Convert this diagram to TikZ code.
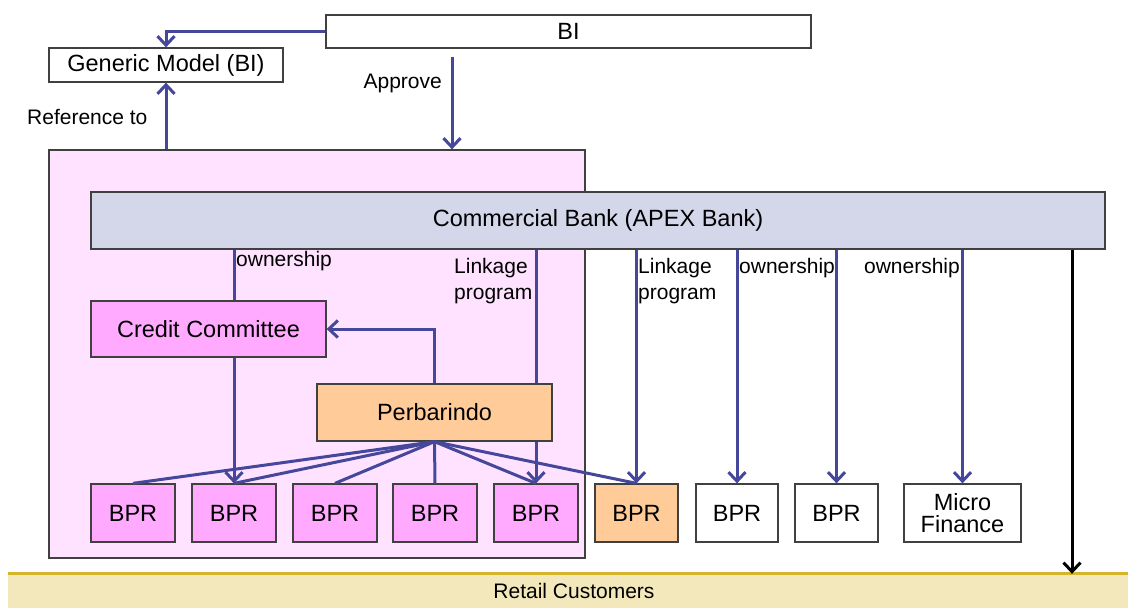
\documentclass[tikz,border=0pt]{standalone}
\usepackage{fontspec}
\setmainfont{Liberation Sans}
\usetikzlibrary{arrows.meta}
\definecolor{linkblue}{RGB}{68,71,154}
\definecolor{regionpink}{RGB}{255,226,255}
\definecolor{ccpink}{RGB}{255,170,255}
\definecolor{orangefill}{RGB}{255,204,153}
\definecolor{lavender}{RGB}{212,214,234}
\definecolor{retailfill}{RGB}{243,232,188}
\definecolor{goldline}{RGB}{213,181,44}
\begin{document}
\begin{tikzpicture}[x=1pt,y=-1pt,
  box/.style={draw=black!75,line width=1.3pt,rectangle,inner sep=0pt,
    font=\fontsize{23.5}{22.5}\selectfont,align=center},
  flow/.style={draw=linkblue,line width=3pt},
  arr/.style={flow,-{Straight Barb[length=9pt,width=17pt]}},
  lbl/.style={font=\fontsize{21}{26}\selectfont,inner sep=0pt,align=left}]
\useasboundingbox (0,0) rectangle (1128,608);

% region and bands
\node[box,fill=regionpink,minimum width=536pt,minimum height=408pt] (pink) at (317,354) {};
\node[fill=retailfill,inner sep=0pt,minimum width=1122pt,minimum height=34pt,
  font=\fontsize{21}{26}\selectfont] (retail) at (569,591) {\hspace*{10pt}Retail Customers};
\draw[goldline,line width=3pt] (retail.north west) -- (retail.north east);

% boxes
\node[box,fill=white,minimum width=485pt,minimum height=33pt] (bi) at (568.5,31.5) {BI};
\node[box,fill=white,minimum width=234pt,minimum height=34pt] (gm) at (166,65) {Generic Model (BI)};
\node[box,fill=lavender,minimum width=1014pt,minimum height=57pt] (cb) at (598,220.5) {Commercial Bank (APEX Bank)};
\node[box,fill=ccpink,minimum width=235pt,minimum height=56pt] (cc) at (208.5,329) {Credit Committee};
\node[box,fill=orangefill,minimum width=235pt,minimum height=57pt] (pb) at (434.5,412.5) {Perbarindo};

\node[box,fill=ccpink,minimum width=84pt,minimum height=58pt] (b1) at (133,513) {BPR};
\node[box,fill=ccpink,minimum width=84pt,minimum height=58pt] (b2) at (234,513) {BPR};
\node[box,fill=ccpink,minimum width=84pt,minimum height=58pt] (b3) at (335,513) {BPR};
\node[box,fill=ccpink,minimum width=84pt,minimum height=58pt] (b4) at (435,513) {BPR};
\node[box,fill=ccpink,minimum width=84pt,minimum height=58pt] (b5) at (536,513) {BPR};
\node[box,fill=orangefill,minimum width=83pt,minimum height=58pt] (b6) at (636.5,513) {BPR};
\node[box,fill=white,minimum width=82pt,minimum height=58pt] (b7) at (737,513) {BPR};
\node[box,fill=white,minimum width=83pt,minimum height=58pt] (b8) at (836.5,513) {BPR};
\node[box,fill=white,minimum width=117pt,minimum height=58pt] (mf) at (962.5,513) {Micro\\Finance};

% free ends
\coordinate (ap) at (452,57);
\coordinate (rx) at (1072,0);

% top connectors
\draw[arr] (bi.west) -| (gm.north);
\draw[arr] (ap) -- (ap |- pink.north);
\draw[arr] (pink.north -| gm.south) -- (gm.south);
\node[lbl,anchor=east] (lapprove) at (442,83) {Approve};
\node[lbl,anchor=west] (lref) at (27,117) {Reference to};

% inner connectors
\draw[flow] (cb.south -| b2.north) -- (cc.north -| b2.north);
\draw[arr] (cc.south -| b2.north) -- (b2.north);
\draw[flow] (cb.south -| b5.north) -- (pb.north -| b5.north);
\draw[arr] (pb.south -| b5.north) -- (b5.north);
\draw[arr] (pb.north) |- (cc.east);
\foreach \b in {b1,b2,b3,b4,b5,b6}{\draw[flow] (pb.south) -- (\b.north);}
\node[lbl,anchor=west] (l1) at (236,261) {ownership};
\node[lbl,anchor=west] (l2) at (454,281) {Linkage\\program};

% right connectors
\draw[arr] (cb.south -| b6.north) -- (b6.north);
\draw[arr] (cb.south -| b7.north) -- (b7.north);
\draw[arr] (cb.south -| b8.north) -- (b8.north);
\draw[arr] (cb.south -| mf.north) -- (mf.north);
\node[lbl,anchor=west] (l3) at (638,281) {Linkage\\program};
\node[lbl,anchor=west] (l4) at (739,268) {ownership};
\node[lbl,anchor=east] (l5) at (960,268) {ownership};

% black arrow to retail
\draw[black,line width=3pt,-{Straight Barb[length=9pt,width=17pt]}] (cb.south -| rx) -- (retail.north -| rx);
\end{tikzpicture}
\end{document}
